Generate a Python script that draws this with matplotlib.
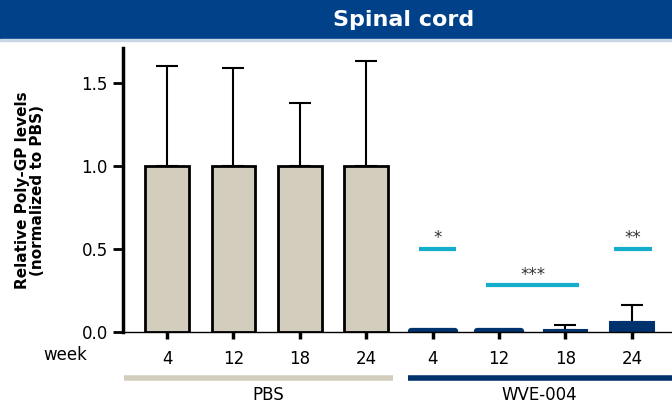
import matplotlib.pyplot as plt
import numpy as np
from matplotlib.patches import Rectangle
import matplotlib.transforms as mtransforms

# data
weeks = ['4', '12', '18', '24', '4', '12', '18', '24']
pbs_mean = [1.0, 1.0, 1.0, 1.0]
pbs_err = [0.60, 0.59, 0.38, 0.63]
wve_mean = [0.004, 0.006, 0.01, 0.06]
wve_err = [0.0, 0.0, 0.03, 0.105]
groups = ['PBS', 'WVE-004']
sig_labels = ['*', '***', '**']
sig_height = [0.5, 0.28, 0.5]
sig_span = [(3.80, 4.35), (4.81, 6.21), (6.73, 7.30)]

navy = '#00336E'
tan = '#D3CDBD'
cyan = '#14ADCC'
banner = '#00418A'

plt.rcParams['font.family'] = 'DejaVu Sans'

fig = plt.figure(figsize=(6.72, 4.07), dpi=100)
fig.patches.append(Rectangle((0, 1 - 39/407), 1, 39/407, transform=fig.transFigure,
                             color=banner, zorder=0))
fig.patches.append(Rectangle((0, 1 - 41/407), 1, 2/407, transform=fig.transFigure,
                             color='#C9D6E6', zorder=0))
fig.text(0.6, 1 - 20/407, 'Spinal cord', color='white', fontsize=16,
         fontweight='bold', ha='center', va='center')

ax = fig.add_axes([123/672, 1 - 332/407, 1 - 123/672, (332 - 48)/407])

x = np.arange(8)
w = 0.66
ax.bar(x[:4], pbs_mean, w, color=tan, edgecolor='black', linewidth=2, zorder=2)
ax.errorbar(x[:4], pbs_mean, yerr=[np.zeros(4), pbs_err], fmt='none',
            ecolor='black', elinewidth=1.5, capsize=8, capthick=1.5, zorder=1)
ax.bar(x[4:6], wve_mean[:2], w, color=navy, edgecolor=navy, linewidth=4.5,
       joinstyle='round', zorder=2)
ax.bar(x[6:], wve_mean[2:], w, color=navy, edgecolor=navy, linewidth=1.5, zorder=2)
ax.errorbar(x[6:], wve_mean[2:], yerr=[np.zeros(2), wve_err[2:]], fmt='none',
            ecolor='black', elinewidth=1.5, capsize=8, capthick=1.5, zorder=1)

# significance bars
for lab, h, (a, b) in zip(sig_labels, sig_height, sig_span):
    ax.plot([a, b], [h, h], color=cyan, lw=3, solid_capstyle='butt', zorder=3)
    ax.text((a + b) / 2, h + 0.01, lab, ha='center', va='bottom',
            fontsize=12, color='#333333')

ax.set_xlim(-0.663, 7.605)
ax.set_ylim(0, 1.71)
ax.set_yticks([0, 0.5, 1.0, 1.5])
ax.set_yticklabels(['0.0', '0.5', '1.0', '1.5'])
ax.set_xticks(x)
ax.set_xticklabels(weeks)
ax.tick_params(axis='y', length=7, width=2, labelsize=12, pad=4)
ax.tick_params(axis='x', length=5, width=2.5, labelsize=12, pad=8)
ax.spines['top'].set_visible(False)
ax.spines['right'].set_visible(False)
ax.spines['left'].set_linewidth(2.5)
ax.spines['bottom'].set_linewidth(1)

ax.set_ylabel('Relative Poly-GP levels\n(normalized to PBS)', fontsize=11,
              fontweight='bold', labelpad=26, linespacing=1.0)

trans = mtransforms.blended_transform_factory(ax.transData, ax.transAxes)
ax.text(-1.54, -0.081, 'week', transform=trans, ha='center', va='center', fontsize=12)
ax.plot([-0.65, 3.40], [-0.162, -0.162], transform=trans, color=tan, lw=4,
        clip_on=False, solid_capstyle='butt')
ax.plot([3.63, 7.7], [-0.162, -0.162], transform=trans, color=navy, lw=4,
        clip_on=False, solid_capstyle='butt')
ax.text(1.52, -0.222, groups[0], transform=trans, ha='center', va='center', fontsize=12)
ax.text(5.6, -0.222, groups[1], transform=trans, ha='center', va='center', fontsize=12)

fig.savefig('out.png', dpi=100)
